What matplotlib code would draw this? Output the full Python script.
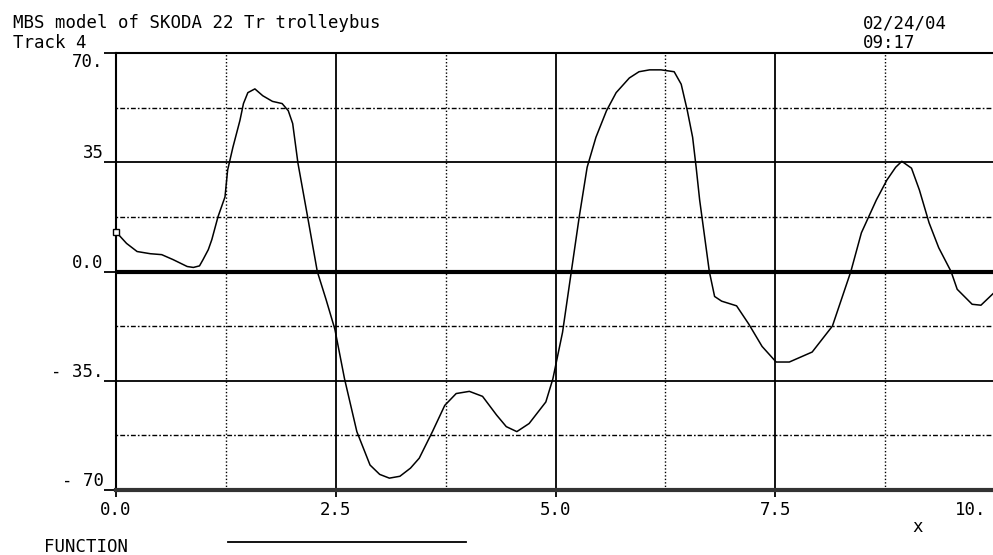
import matplotlib
matplotlib.use("Agg")
import matplotlib.pyplot as plt
from matplotlib.ticker import FixedLocator
from matplotlib.transforms import ScaledTranslation

# ---- data ----
x_vals = [0.0, 0.12, 0.24, 0.39, 0.52, 0.65, 0.81, 0.88, 0.95, 0.99,
          1.05, 1.09, 1.16, 1.24, 1.27, 1.33, 1.41, 1.45, 1.50, 1.58,
          1.67, 1.78, 1.89, 1.96, 2.01, 2.07, 2.18, 2.29, 2.39, 2.49,
          2.60, 2.74, 2.89, 3.00, 3.11, 3.23, 3.35, 3.45, 3.60, 3.74,
          3.87, 4.02, 4.17, 4.33, 4.44, 4.56, 4.70, 4.89, 4.97, 5.08,
          5.18, 5.27, 5.36, 5.46, 5.58, 5.69, 5.84, 5.95, 6.07, 6.20,
          6.35, 6.43, 6.50, 6.56, 6.60, 6.64, 6.75, 6.81, 6.89, 7.06,
          7.20, 7.35, 7.51, 7.66, 7.92, 8.15, 8.36, 8.48, 8.65, 8.77,
          8.87, 8.94, 9.05, 9.14, 9.25, 9.36, 9.50, 9.57, 9.74, 9.84,
          10.0]
y_vals = [12.7, 9.0, 6.4, 5.7, 5.4, 3.8, 1.6, 1.3, 1.8, 3.8,
          7.0, 10.2, 17.5, 23.9, 32.5, 39.8, 48.4, 53.8, 57.3, 58.5,
          56.3, 54.5, 53.8, 51.5, 47.4, 34.7, 17.5, 0.0, -9.0, -18.5,
          -34.4, -51.3, -62.0, -65.0, -66.2, -65.6, -63.0, -59.8, -51.3, -42.9,
          -39.1, -38.4, -40.0, -46.0, -49.7, -51.3, -48.7, -41.8, -34.4, -19.5,
          0.0, 17.5, 33.4, 43.0, 51.5, 57.3, 62.0, 64.0, 64.6, 64.6,
          64.0, 60.0, 51.5, 43.0, 33.4, 22.9, 0.0, -8.0, -9.5, -11.0,
          -16.9, -24.0, -29.0, -29.0, -25.8, -17.5, 0.0, 12.4, 22.9, 29.3,
          33.4, 35.3, 33.1, 26.1, 15.6, 7.6, 0.0, -5.7, -10.5, -10.8,
          -6.5]

x_major = [0.0, 2.5, 5.0, 7.5, 10.0]
x_major_labels = ["0.0", "2.5", "5.0", "7.5", "10."]
x_minor = [1.25, 3.75, 6.25, 8.75]
y_major = [-70, -35, 0, 35, 70]
y_major_labels = ["- 70", "- 35.", "0.0", "35", "70."]
y_minor = [-52.5, -17.5, 17.5, 52.5]

title_lines = ["MBS model of SKODA 22 Tr trolleybus", "Track 4"]
date_lines = ["02/24/04", "09:17"]
x_label = "x"
legend_label = "FUNCTION"

FONT = "DejaVu Sans Mono"
FS = 12.5

fig = plt.figure(figsize=(9.93, 5.55), dpi=100)
ax = fig.add_axes([116 / 993, 1 - 490 / 555, 879 / 993, 437 / 555])

ax.plot(x_vals, y_vals, color="black", lw=1.1, zorder=5)
ax.plot(x_vals[:1], y_vals[:1], marker="s", ms=4.5, mfc="white",
        mec="black", mew=1.0, ls="none", zorder=6, clip_on=False)

ax.set_xlim(0, 10)
ax.set_ylim(-70, 70)

ax.xaxis.set_major_locator(FixedLocator(x_major))
ax.xaxis.set_minor_locator(FixedLocator(x_minor))
ax.yaxis.set_major_locator(FixedLocator(y_major))
ax.yaxis.set_minor_locator(FixedLocator(y_minor))
ax.set_xticklabels(x_major_labels, fontfamily=FONT, fontsize=FS)
ax.set_yticklabels(y_major_labels, fontfamily=FONT, fontsize=FS)

ax.tick_params(axis="y", which="major", direction="out", length=9,
               width=1.3, pad=0, color="black")
ax.tick_params(axis="x", which="major", direction="out", length=5,
               width=1.3, pad=3, color="black")
ax.tick_params(which="minor", length=0)

for lbl, v in zip(ax.get_yticklabels(), y_major):
    lbl.set_verticalalignment("top" if v == 70 else "bottom")
last_tick = ax.xaxis.get_major_ticks()[-1]
last_tick.label1.set_transform(
    last_tick.label1.get_transform() + ScaledTranslation(-0.24, 0, fig.dpi_scale_trans))

ax.xaxis.grid(True, which="major", color="black", lw=1.3, ls="-")
ax.yaxis.grid(True, which="major", color="black", lw=1.3, ls="-")
ax.xaxis.grid(True, which="minor", color="black", lw=1.0, ls=(0, (1, 1.5)))
ax.yaxis.grid(True, which="minor", color="black", lw=1.0,
              ls=(0, (1.2, 1.5, 3.5, 1.5)))
ax.axhline(0, color="black", lw=3.0, zorder=4)

ax.spines["right"].set_visible(False)
ax.spines["top"].set_linewidth(1.5)
ax.spines["left"].set_linewidth(1.5)
ax.spines["bottom"].set_linewidth(3.0)
ax.spines["bottom"].set_color("#333333")

fig.text(13 / 993, 1 - 23 / 555, title_lines[0], fontfamily=FONT,
         fontsize=FS, ha="left", va="center")
fig.text(13 / 993, 1 - 43 / 555, title_lines[1], fontfamily=FONT,
         fontsize=FS, ha="left", va="center")
fig.text(863 / 993, 1 - 23 / 555, date_lines[0], fontfamily=FONT,
         fontsize=FS, ha="left", va="center")
fig.text(863 / 993, 1 - 43 / 555, date_lines[1], fontfamily=FONT,
         fontsize=FS, ha="left", va="center")
fig.text(918 / 993, 1 - 527 / 555, x_label, fontfamily=FONT,
         fontsize=FS, ha="center", va="center")
fig.text(44 / 993, 1 - 547 / 555, legend_label, fontfamily=FONT,
         fontsize=FS, ha="left", va="center")
fig.add_artist(plt.Line2D([228 / 993, 466 / 993], [1 - 542 / 555, 1 - 542 / 555],
                          color="black", lw=1.3, transform=fig.transFigure))

fig.savefig("out.png", dpi=100)
